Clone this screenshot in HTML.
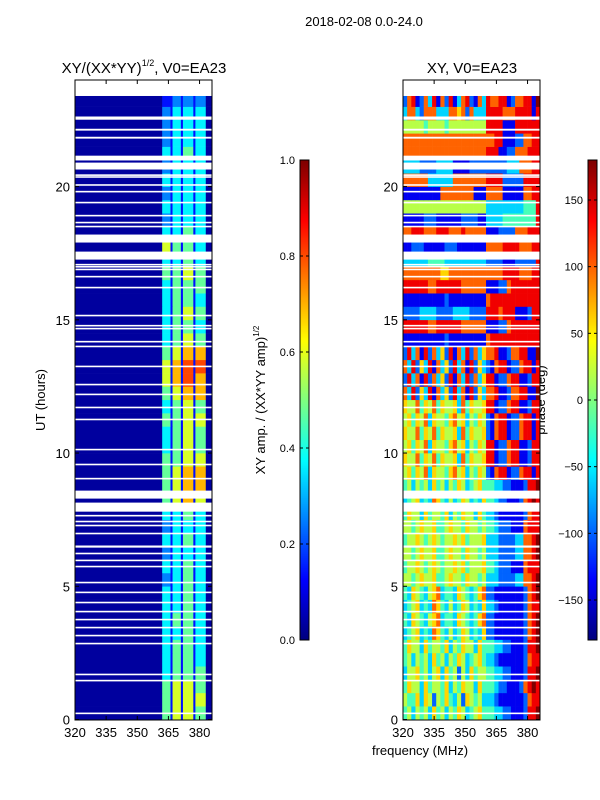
<!DOCTYPE html>
<html><head><meta charset="utf-8"><style>
body{margin:0;background:#fff}
svg{display:block;font-family:"Liberation Sans","DejaVu Sans",sans-serif}
</style></head><body>
<svg id="fig" width="600" height="800" viewBox="0 0 600 800" xmlns="http://www.w3.org/2000/svg">
<rect width="600" height="800" fill="#fff"/>
<text x="364" y="26" font-size="13" text-anchor="middle">2018-02-08 0.0-24.0</text>
<text x="144" y="73" font-size="15" text-anchor="middle">XY/(XX*YY)<tspan font-size="9" dy="-7">1/2</tspan><tspan dy="7">, V0=EA23</tspan></text>
<text x="472" y="73" font-size="15" text-anchor="middle">XY, V0=EA23</text>
<text transform="translate(45,400) rotate(-90)" font-size="13" text-anchor="middle">UT (hours)</text>
<text x="420" y="755" font-size="13" text-anchor="middle">frequency (MHz)</text>
<text transform="translate(265,400) rotate(-90)" font-size="13" text-anchor="middle">XY amp. / (XX*YY amp)<tspan font-size="8" dy="-6">1/2</tspan></text>
<text transform="translate(545,400) rotate(-90)" font-size="13" text-anchor="middle">phase (deg)</text>
<g id="left"></g><g id="right"></g><g id="cb1"></g><g id="cb2"></g>
</svg>
<script>
// ---- data ----
const ampFreqEdges=[320,362,366,367,371,372,377,378,383,386];
const ampRows=["041515140","041515150","041515140","031414140","031414130","031414130","031314130","031414130","031314130","031314130","021314130","031314130","021313130","031314130","021313130","031314130","041516150","041516160","041516160","041415150","031415140","031415140","041415150","031415140","041516160","051617160","051617170","041516160","031415140","031414130","031415140","031414130","031414140","041415140","031314130","051414130","031314130","021313130","031313130","021313130","031313130","021313130","031314130","021313130","021313130","021313130","011212120","011212120"];
const phaseRows=[
"45354536453546534564"+"4433221112889","54463652546435265453"+"3321111112788","46553645546354655364"+"4432211127898",
"35564535636452536455"+"4433221112889","45354536453546534564"+"3321111112788","46553645546354655364"+"4433221112889",
"34563437643534653436"+"2211111112789","43654356734436543467"+"2211111112789","34563437643534653436"+"3321111112788",
"43654356734436543467"+"2211111112789","55456556445655465545"+"3332222337789","45565456545565645556"+"4432221117888",
"55456556445655465545"+"3332222337789","45565456545565645556"+"3332222337789","55456556445655465545"+"4432221117888",
"46553645546354655364"+"3321111112788","34563437643534653436"+"4432211127898","45354536453546534564"+"4433221112889",
"56465736554675635465"+"2178812278818","65574657465563746556"+"8812278811288","56465736554675635465"+"8812278811288",
"65574657465563746556"+"2178812278818","56465736554675635465"+"2178812278818","65574657465563746556"+"8812278811288",
"73826381736283718263"+"7781127788119","28371827362817382736"+"8812278811288","73826381736283718263"+"2178812278818",
"28371827362817382736"+"7781127788119","11111111112111111111"+"7888888888888","88888877888888777777"+"1112278888888",
"22223333222233332222"+"8887888111288","11111111112111111111"+"7888888888888","88888877888888777777"+"1112278888888",
"77777777766777777777"+"7777888877788","33333344443333333333"+"2222111222228","11222111112221111111"+"7777888877788",
"77888777888777877777"+"1112222777888","11111222111111222211"+"3333444444448","55555555555555555555"+"3333333334448",
"11111111177777777111"+"7777111117788","77777733333377777777"+"8888222228888","33332222333311112222"+"2222233377788",
"77777777777777777777"+"8881122777888","77777777777777777777"+"7788111227788","55555455554555555555"+"8888111888888",
"37732777333776727333"+"8888777888818","27812738172813782173"+"8778812778819","27812738172813782173"+"8778812778819"];
const gaps=[[23.4,24],[22.51,22.63],[22.1,22.17],[21.8,21.87],[20.98,21.16],[20.64,20.9],[20.4,20.46],[20.33,20.39],[20.03,20.09],[19.78,19.84],[19.37,19.43],[18.88,18.94],[18.62,18.68],[18.47,18.53],[17.9,18.2],[17.26,17.56],[17.04,17.1],[16.96,17.02],[16.86,16.92],[16.59,16.65],[16.18,16.24],[15.13,15.19],[14.75,14.81],[14.64,14.7],[14.15,14.21],[13.97,14.03],[13.22,13.28],[12.54,12.6],[12.17,12.23],[11.68,11.74],[11.23,11.29],[10.1,10.16],[9.54,9.6],[9.01,9.07],[8.29,8.59],[7.8,8.14],[7.62,7.68],[7.4,7.46],[7.25,7.31],[6.95,7.01],[6.45,6.53],[6.2,6.26],[5.94,6.0],[5.71,5.77],[5.11,5.17],[4.74,4.8],[4.36,4.42],[4.02,4.08],[3.72,3.78],[3.42,3.48],[3.12,3.18],[2.82,2.88],[1.66,1.72],[1.43,1.49],[0.2,0.26]];
const timeTicks=[0,5,10,15,20];
const freqTicks=[320,335,350,365,380];
const ampTicks=[0.0,0.2,0.4,0.6,0.8,1.0];
const phaseTicks=[-150,-100,-50,0,50,100,150];
const phaseFreqStep=2, rowHours=0.5;

// ---- helpers ----
const NS="http://www.w3.org/2000/svg";
function mk(tag,attrs,parent){const e=document.createElementNS(NS,tag);for(const k in attrs)e.setAttribute(k,attrs[k]);parent.appendChild(e);return e;}
function jet(v){v=Math.max(0,Math.min(1,v));
 const r=Math.max(0,Math.min(1,1.5-Math.abs(4*v-3))),g=Math.max(0,Math.min(1,1.5-Math.abs(4*v-2))),b=Math.max(0,Math.min(1,1.5-Math.abs(4*v-1)));
 return `rgb(${Math.round(r*255)},${Math.round(g*255)},${Math.round(b*255)})`;}
const Y0=719.5,Y24=80;
function yT(t){return Y0-(Y0-Y24)*t/24;}
function xScale(x0){return f=>x0+(f-320)*(137/66);}

function panel(gid,x0,draw){
 const g=document.getElementById(gid);const xF=xScale(x0);
 draw(g,xF);
 for(const gp of gaps){const r=mk('rect',{x:x0,y:yT(gp[1]),width:137,height:yT(gp[0])-yT(gp[1]),fill:'#fff'},g);
  
  }
 const fr=mk('rect',{x:x0,y:80,width:137,height:640,fill:'none',stroke:'#000','stroke-width':1},g);
 
 
 for(const t of timeTicks){const y=yT(t);
  mk('line',{x1:x0,x2:x0+4,y1:y,y2:y,stroke:'#000'},g);mk('line',{x1:x0+137,x2:x0+133,y1:y,y2:y,stroke:'#000'},g);
  const tx=mk('text',{x:x0-5,y:y+5,'font-size':13,'text-anchor':'end'},g);tx.textContent=t;
  
  }
 for(const f of freqTicks){const x=xF(f);
  mk('line',{x1:x,x2:x,y1:80,y2:84,stroke:'#000'},g);mk('line',{x1:x,x2:x,y1:720,y2:716,stroke:'#000'},g);
  const tx=mk('text',{x:x,y:737,'font-size':13,'text-anchor':'middle'},g);tx.textContent=f;
  
  }
}
panel('left',75,(g,xF)=>{
 ampRows.forEach((row,i)=>{const y1=yT(i*rowHours),y2=yT((i+1)*rowHours);
  for(let c=0;c<row.length&&c<ampFreqEdges.length-1;c++){
   const r=mk('rect',{x:xF(ampFreqEdges[c]),y:y2,width:xF(ampFreqEdges[c+1])-xF(ampFreqEdges[c])+0.3,height:y1-y2+0.3,fill:jet(0.03+(+row[c])/9)},g);
   
   }});
});
panel('right',403,(g,xF)=>{
 phaseRows.forEach((row,i)=>{const y1=yT(i*rowHours),y2=yT((i+1)*rowHours);
  for(let c=0;c<row.length&&c<33;c++){const f=320+c*phaseFreqStep;
   const ph=-180+(+row[c])*40;
   const r=mk('rect',{x:xF(f),y:y2,width:xF(f+phaseFreqStep)-xF(f)+0.3,height:y1-y2+0.3,fill:jet((ph+180)/360)},g);
   
   }});
});
function colorbar(gid,x,ticks,lo,hi,fmt){
 const g=document.getElementById(gid);
 for(let i=0;i<240;i++){const v=i/239;mk('rect',{x:x,y:640-(i+1)*2,width:9,height:2.3,fill:jet(v)},g);}
 const fr=mk('rect',{x:x,y:160,width:9,height:480,fill:'none',stroke:'#000'},g);
 
 
 for(const t of ticks){const y=640-(t-lo)/(hi-lo)*480;
  mk('line',{x1:x,x2:x+3,y1:y,y2:y,stroke:'#000'},g);mk('line',{x1:x+9,x2:x+6,y1:y,y2:y,stroke:'#000'},g);
  const tx=mk('text',{x:x-5,y:y+4,'font-size':11,'text-anchor':'end'},g);tx.textContent=fmt(t);
  
  }
}
colorbar('cb1',300,ampTicks,0,1,t=>t.toFixed(1));
colorbar('cb2',588,phaseTicks,-180,180,t=>t<0?'\u2212'+(-t):String(t));
</script>
</body></html>
